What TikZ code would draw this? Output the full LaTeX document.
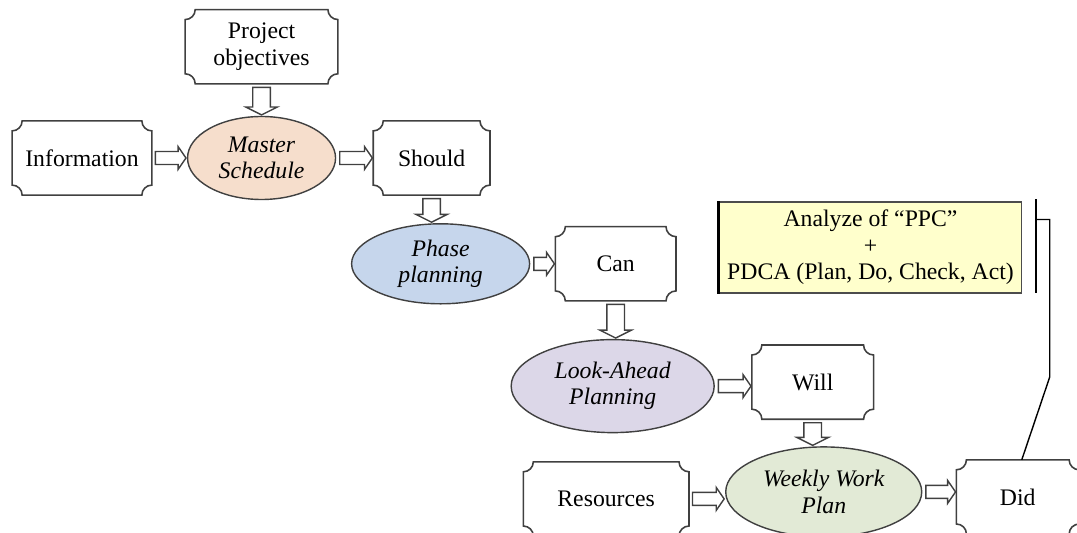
\documentclass[tikz,border=0pt]{standalone}
\usepackage{fontspec}
\setmainfont{Liberation Serif}
\usetikzlibrary{positioning, calc, shapes.geometric}

\definecolor{peach}{RGB}{246,222,204}
\definecolor{phaseblue}{RGB}{198,214,236}
\definecolor{lookpurple}{RGB}{220,215,232}
\definecolor{weekgreen}{RGB}{226,234,214}
\definecolor{ppcyellow}{RGB}{255,255,204}

\tikzset{
    plate/.style = {
        rectangle,
        inner sep = 0pt,
        minimum width = #1,
        minimum height = 1.47cm,
        align = center
    },
    plateline/.style = {draw = black!75, line width = 0.9pt},
    oval/.style = {
        ellipse,
        draw = black!75,
        line width = 0.8pt,
        inner sep = 0pt,
        align = center,
        font = \itshape
    },
    % hollow block arrow: half shaft, half head, head length
    fat/.style n args = {3}{
        draw = black!75,
        line width = 0.8pt,
        fill = white,
        to path = {
            let \p1 = (\tikztostart), \p2 = (\tikztotarget),
                \n1 = {atan2(\y2-\y1,\x2-\x1)},
                \n2 = {veclen(\x2-\x1,\y2-\y1)} in
            ($(\p1)+(\n1:2pt)+(\n1+90:#1)$) -- ++(\n1:{\n2-2.5pt-#3})
            -- ++(\n1+90:{#2-#1}) -- ($(\p2)+(\n1+180:0.5pt)$)
            -- ($(\p2)+(\n1+180:{0.5pt+#3})+(\n1-90:#2)$) -- ++(\n1+90:{#2-#1})
            -- ($(\p1)+(\n1:2pt)+(\n1-90:#1)$) -- cycle
        }
    },
    hfat/.style = {fat = {3.7pt}{6.5pt}{4.5pt}},
    vfat/.style = {fat = {5pt}{9pt}{4.5pt}}
}

\begin{document}
\fontsize{13.5}{15}\selectfont
\begin{tikzpicture}
    \useasboundingbox (0,0) rectangle (21.54,-10.66);

    % chain of plans
    \node[plate=2.78cm] (info) at (1.64,-3.16) {Information};
    \node[oval, fill=peach, minimum width=2.96cm, minimum height=1.66cm,
          right=0.7cm of info] (master) {Master\\Schedule};
    \node[plate=3.04cm, above=0.64cm of master] (goals) {Project\\objectives};
    \node[plate=2.32cm, right=0.74cm of master] (should) {Should};
    \node[oval, fill=phaseblue, minimum width=3.56cm, minimum height=1.6cm,
          below=0.56cm of should, xshift=0.18cm] (phase) {Phase\\planning};
    \node[plate=2.4cm, right=0.5cm of phase] (can) {Can};
    \node[oval, fill=lookpurple, minimum width=4.06cm, minimum height=1.86cm,
          below=0.76cm of can, xshift=-0.06cm] (ahead) {Look-Ahead\\Planning};
    \node[plate=2.42cm, right=0.74cm of ahead, yshift=0.08cm] (will) {Will};
    \node[oval, fill=weekgreen, minimum width=3.92cm, minimum height=1.8cm,
          below=0.54cm of will, xshift=0.22cm] (weekly) {Weekly Work\\Plan};
    \node[plate=3.3cm, left=0.72cm of weekly, yshift=-0.14cm] (res) {Resources};
    \node[plate=2.44cm, right=0.68cm of weekly, yshift=-0.1cm] (did) {Did};

    % PPC box
    \node[rectangle, draw=black!70, line width=0.6pt, fill=ppcyellow,
          minimum width=5.94cm, minimum height=1.82cm, align=center]
          (ppc) at (17.41,-4.95) {Analyze of “PPC”\\+\\PDCA (Plan, Do, Check, Act)};
    \draw[line width=1.6pt] (ppc.north west) -- (ppc.south west);

    % plate outlines with scooped corners
    \foreach \n in {info, goals, should, can, will, res, did}
        \draw[plateline]
            ($(\n.north west)+(0.2,0)$) -- ($(\n.north east)+(-0.2,0)$)
            arc[start angle=180, end angle=270, radius=0.2]
            -- ($(\n.south east)+(0,0.2)$)
            arc[start angle=90, end angle=180, radius=0.2]
            -- ($(\n.south west)+(0.2,0)$)
            arc[start angle=0, end angle=90, radius=0.2]
            -- ($(\n.north west)+(0,-0.2)$)
            arc[start angle=-90, end angle=0, radius=0.2]
            -- cycle;

    % block arrows
    \draw[vfat] (goals.south) to (goals.south |- master.north);
    \draw[hfat] (info.east) to (info.east -| master.west);
    \draw[hfat] (master.east) to (master.east -| should.west);
    \draw[vfat] (should.south) to (should.south |- phase.north);
    \draw[hfat] (phase.east) to (phase.east -| can.west);
    \draw[vfat] (can.south) to (can.south |- ahead.north);
    \draw[hfat] (ahead.east) to (ahead.east -| will.west);
    \draw[vfat] (will.south) to (will.south |- weekly.north);
    \draw[hfat] (res.east) to (res.east -| weekly.west);
    \draw[hfat] (weekly.east) to (weekly.east -| did.west);

    % feedback to the PPC analysis
    \coordinate (bartop) at ([xshift=0.28cm, yshift=0.04cm]ppc.north east);
    \coordinate (barbot) at ([xshift=0.28cm, yshift=0.02cm]ppc.south east);
    \coordinate (barin) at ([xshift=0.28cm, yshift=-0.36cm]ppc.north east);
    \draw[line width=0.9pt] (bartop) -- (barbot);
    \draw[line width=0.8pt] ([xshift=0.08cm]did.north) -- ++(0.56,1.66) |- (barin);
\end{tikzpicture}
\end{document}
